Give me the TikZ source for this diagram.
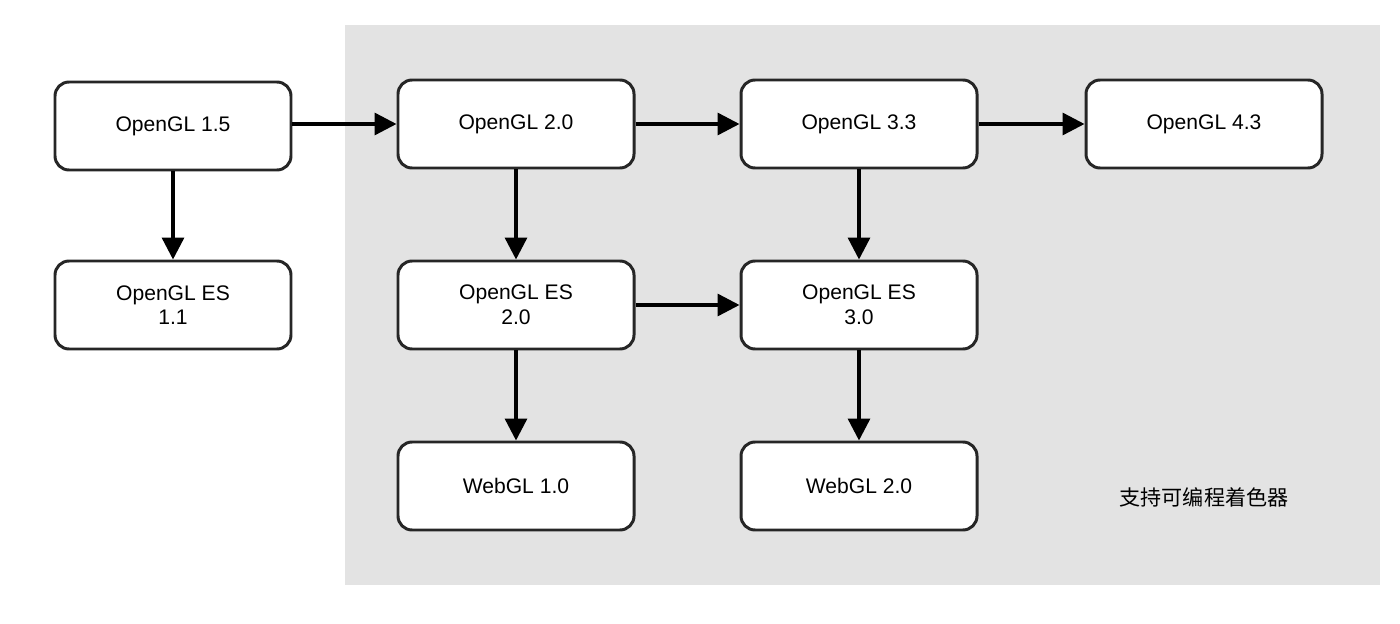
\documentclass[tikz,border=0pt]{standalone}
\usepackage{fontspec}
\setmainfont{Liberation Sans}
\newfontfamily\cjkfont{Noto Sans CJK SC}
\usetikzlibrary{arrows.meta,positioning}

\begin{document}
\begin{tikzpicture}[
  box/.style={rectangle, rounded corners=8pt, draw=black!85, line width=1.7pt,
    fill=white, minimum width=4.72cm, minimum height=1.76cm,
    align=center, font=\fontsize{12}{14}\selectfont},
  arrow/.style={-{Triangle[length=0.44cm, width=0.44cm]}, line width=1.9pt},
]
\useasboundingbox (0,0) rectangle (28,12.46);
% Shader region
\fill[gray!22] (6.9,0.76) rectangle (27.6,11.96);

% Desktop GL
\node[box] (gl15) at (3.46, 9.94) {OpenGL 1.5};
\node[box] (gl20) at (10.32, 9.98) {OpenGL 2.0};
\node[box] (gl33) at (17.18, 9.98) {OpenGL 3.3};
\node[box] (gl43) at (24.08, 9.98) {OpenGL 4.3};

% Embedded GL
\node[box] (es11) at (3.46, 6.36) {OpenGL ES\\1.1};
\node[box] (es20) at (10.32, 6.36) {OpenGL ES\\2.0};
\node[box] (es30) at (17.18, 6.36) {OpenGL ES\\3.0};

% Web
\node[box] (web1) at (10.32, 2.74) {WebGL 1.0};
\node[box] (web2) at (17.18, 2.74) {WebGL 2.0};

\node[font=\cjkfont\fontsize{12}{14}\selectfont] (shader) at (24.08, 2.52) {支持可编程着色器};

% Arrows
\draw[arrow] (gl15.east |- gl20) -- (gl20);
\draw[arrow] (gl20) -- (gl33);
\draw[arrow] (gl33) -- (gl43);
\draw[arrow] (gl15) -- (es11);
\draw[arrow] (gl20) -- (es20);
\draw[arrow] (gl33) -- (es30);
\draw[arrow] (es20) -- (es30);
\draw[arrow] (es20) -- (web1);
\draw[arrow] (es30) -- (web2);
\end{tikzpicture}
\end{document}
